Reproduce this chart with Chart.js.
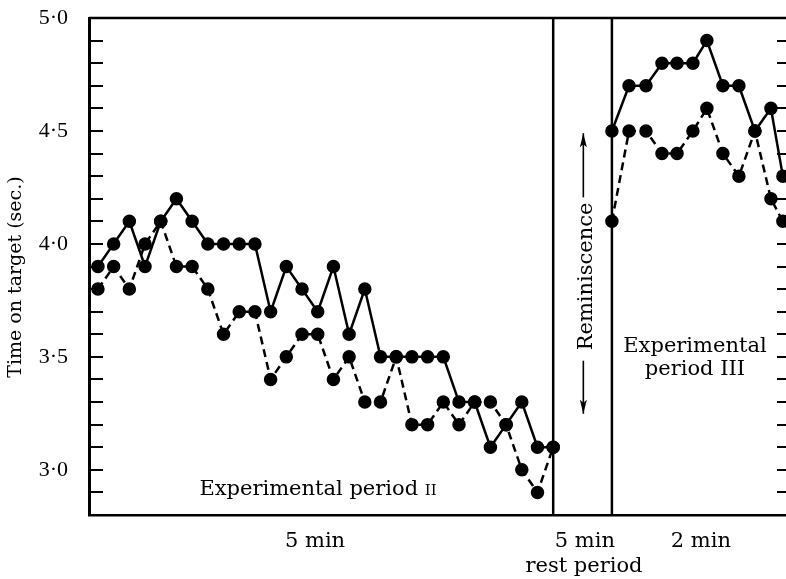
<!DOCTYPE html>
<html><head><meta charset="utf-8">
<script src="https://cdn.jsdelivr.net/npm/chart.js@4.4.1/dist/chart.umd.min.js"></script>
<style>html,body{margin:0;padding:0;background:#fff;} #wrap{width:786px;height:579px;position:relative;}</style>
</head><body><div id="wrap"><canvas id="c" width="786" height="579"></canvas></div>
<script>
// ---- data ----
const trialsII = [1,2,3,4,5,6,7,8,9,10,11,12,13,14,15,16,17,18,19,20,21,22,23,24,25,26,27,28,29,30];
const solidII  = [3.9,4.0,4.1,3.9,4.1,4.2,4.1,4.0,4.0,4.0,4.0,3.7,3.9,3.8,3.7,3.9,3.6,3.8,3.5,3.5,3.5,3.5,3.5,3.3,3.3,3.1,3.2,3.3,3.1,3.1];
const dashedII = [3.8,3.9,3.8,4.0,4.1,3.9,3.9,3.8,3.6,3.7,3.7,3.4,3.5,3.6,3.6,3.4,3.5,3.3,3.3,3.5,3.2,3.2,3.3,3.2,3.3,3.3,3.2,3.0,2.9,3.1];
const trialsIII = [33.74,34.83,35.91,36.93,37.89,38.9,39.79,40.81,41.83,42.85,43.87,44.63];
const solidIII  = [4.5,4.7,4.7,4.8,4.8,4.8,4.9,4.7,4.7,4.5,4.6,4.3];
const dashedIII = [4.1,4.5,4.5,4.4,4.4,4.5,4.6,4.4,4.3,4.5,4.2,4.1];
const yTickValues = [3.0,3.5,4.0,4.5,5.0];
const yTickLabels = ['3·0','3·5','4·0','4·5','5·0'];
const periodBoundaries = [30, 33.74];
const bottomLabels = ['5 min','5 min','rest period','2 min'];
const yTitle = 'Time on target (sec.)';

// ---- layout of annotations (data units on x / y) ----
const ann = {
  bottom: [ {x:14.83, dy:32}, {x:32.02, dy:32}, {x:31.96, dy:57}, {x:39.41, dy:32} ],
  periodII: {x:15.02, y:2.889},
  periodIII: {x:39.03, y1:3.523, y2:3.421},
  remin: {x:32.12, y:3.856, arrowX:31.92, upFrom:4.206, upTo:4.49, downFrom:3.483, downTo:3.248}
};

const pts = (xs, ys) => xs.map((x,i)=>({x, y:ys[i]}));
const SERIF = "'DejaVu Serif', serif";

function arrow(ctx, x, y0, y1){
  ctx.beginPath(); ctx.moveTo(x,y0); ctx.lineTo(x,y1); ctx.stroke();
  const d = y1 > y0 ? 1 : -1;
  ctx.beginPath();
  ctx.moveTo(x, y1);
  ctx.lineTo(x-3.5, y1 - d*14);
  ctx.lineTo(x, y1 - d*11);
  ctx.lineTo(x+3.5, y1 - d*14);
  ctx.closePath(); ctx.fill();
}

const decor = {
  id:'decor',
  afterDraw(chart){
    const {ctx, chartArea:a, scales:{x, y}} = chart;
    ctx.save();
    ctx.strokeStyle = '#000'; ctx.fillStyle = '#000';
    // top border
    ctx.lineWidth = 2.5;
    ctx.beginPath(); ctx.moveTo(a.left, a.top); ctx.lineTo(a.right, a.top); ctx.stroke();
    // inward ticks
    ctx.lineWidth = 2;
    y.ticks.forEach(t => {
      const py = Math.round(y.getPixelForValue(t.value));
      if (py <= a.top + 1 || py >= a.bottom - 1) return;
      ctx.beginPath(); ctx.moveTo(a.left, py); ctx.lineTo(a.left + 14, py); ctx.stroke();
      ctx.beginPath(); ctx.moveTo(a.right, py); ctx.lineTo(a.right - 9, py); ctx.stroke();
    });
    // rest period boundaries
    ctx.lineWidth = 2.5;
    periodBoundaries.forEach(v => {
      const px = x.getPixelForValue(v);
      ctx.beginPath(); ctx.moveTo(px, a.top); ctx.lineTo(px, a.bottom); ctx.stroke();
    });
    // y title
    ctx.font = '19px ' + SERIF;
    ctx.textAlign = 'center'; ctx.textBaseline = 'middle';
    ctx.save(); ctx.translate(16, 277); ctx.rotate(-Math.PI/2); ctx.fillText(yTitle, 0, 0); ctx.restore();
    // bottom labels
    ctx.font = '21px ' + SERIF; ctx.textBaseline = 'alphabetic';
    bottomLabels.forEach((s,i) => {
      ctx.fillText(s, x.getPixelForValue(ann.bottom[i].x), a.bottom + ann.bottom[i].dy);
    });
    // Experimental period II (small caps numeral)
    {
      const main = 'Experimental period ', num = 'II';
      ctx.font = '21px ' + SERIF; const w1 = ctx.measureText(main).width;
      ctx.font = '15px ' + SERIF; const w2 = ctx.measureText(num).width;
      const cx = x.getPixelForValue(ann.periodII.x), by = y.getPixelForValue(ann.periodII.y);
      const sx = cx - (w1 + w2)/2;
      ctx.textAlign = 'left';
      ctx.font = '21px ' + SERIF; ctx.fillText(main, sx, by);
      ctx.font = '15px ' + SERIF; ctx.fillText(num, sx + w1, by);
    }
    // Experimental period III
    ctx.textAlign = 'center'; ctx.font = '21px ' + SERIF;
    ctx.fillText('Experimental', x.getPixelForValue(ann.periodIII.x), y.getPixelForValue(ann.periodIII.y1));
    ctx.fillText('period III', x.getPixelForValue(ann.periodIII.x), y.getPixelForValue(ann.periodIII.y2));
    // Reminiscence with arrows
    {
      const r = ann.remin;
      ctx.save();
      ctx.translate(x.getPixelForValue(r.x), y.getPixelForValue(r.y));
      ctx.rotate(-Math.PI/2);
      ctx.textBaseline = 'middle'; ctx.textAlign = 'center';
      ctx.fillText('Reminiscence', 0, 0);
      ctx.restore();
      ctx.lineWidth = 1.6;
      const ax = x.getPixelForValue(r.arrowX);
      arrow(ctx, ax, y.getPixelForValue(r.upFrom), y.getPixelForValue(r.upTo));
      arrow(ctx, ax, y.getPixelForValue(r.downFrom), y.getPixelForValue(r.downTo));
    }
    ctx.restore();
  }
};

const lineStyle = {
  borderColor:'#000', backgroundColor:'#000', pointBackgroundColor:'#000', pointBorderColor:'#000',
  borderWidth:2.5, pointRadius:5.5, pointHoverRadius:5.5, tension:0, fill:false, clip:false
};

new Chart(document.getElementById('c'), {
  type:'line',
  data:{ datasets:[
    Object.assign({label:'II solid', data:pts(trialsII, solidII)}, lineStyle),
    Object.assign({label:'II dashed', data:pts(trialsII, dashedII), borderDash:[8,5]}, lineStyle),
    Object.assign({label:'III solid', data:pts(trialsIII, solidIII)}, lineStyle),
    Object.assign({label:'III dashed', data:pts(trialsIII, dashedIII), borderDash:[8,5]}, lineStyle)
  ]},
  options:{
    responsive:false, animation:false, devicePixelRatio:1,
    layout:{ autoPadding:false, padding:{ top:18, left:0, right:0, bottom:64 } },
    plugins:{ legend:{display:false}, tooltip:{enabled:false} },
    scales:{
      x:{ type:'linear', min:0.43, max:44.83,
          ticks:{display:false}, grid:{display:false},
          border:{display:true, color:'#000', width:2.5},
          afterFit(s){ s.height = 0; s.paddingLeft = 0; s.paddingRight = 0; } },
      y:{ type:'linear', min:2.8, max:5.0,
          ticks:{ stepSize:0.1, autoSkip:false, maxTicksLimit:40, padding:21, color:'#000',
                  font:{family:"'Liberation Serif', serif", size:22},
                  callback(v){ const i = yTickValues.findIndex(t => Math.abs(t - v) < 1e-6); return i >= 0 ? yTickLabels[i] : ''; } },
          grid:{display:false, drawTicks:false},
          border:{display:true, color:'#000', width:3},
          afterFit(s){ s.width = 89; s.paddingTop = 0; s.paddingBottom = 0; } }
    }
  },
  plugins:[decor]
});
</script>
</body></html>
